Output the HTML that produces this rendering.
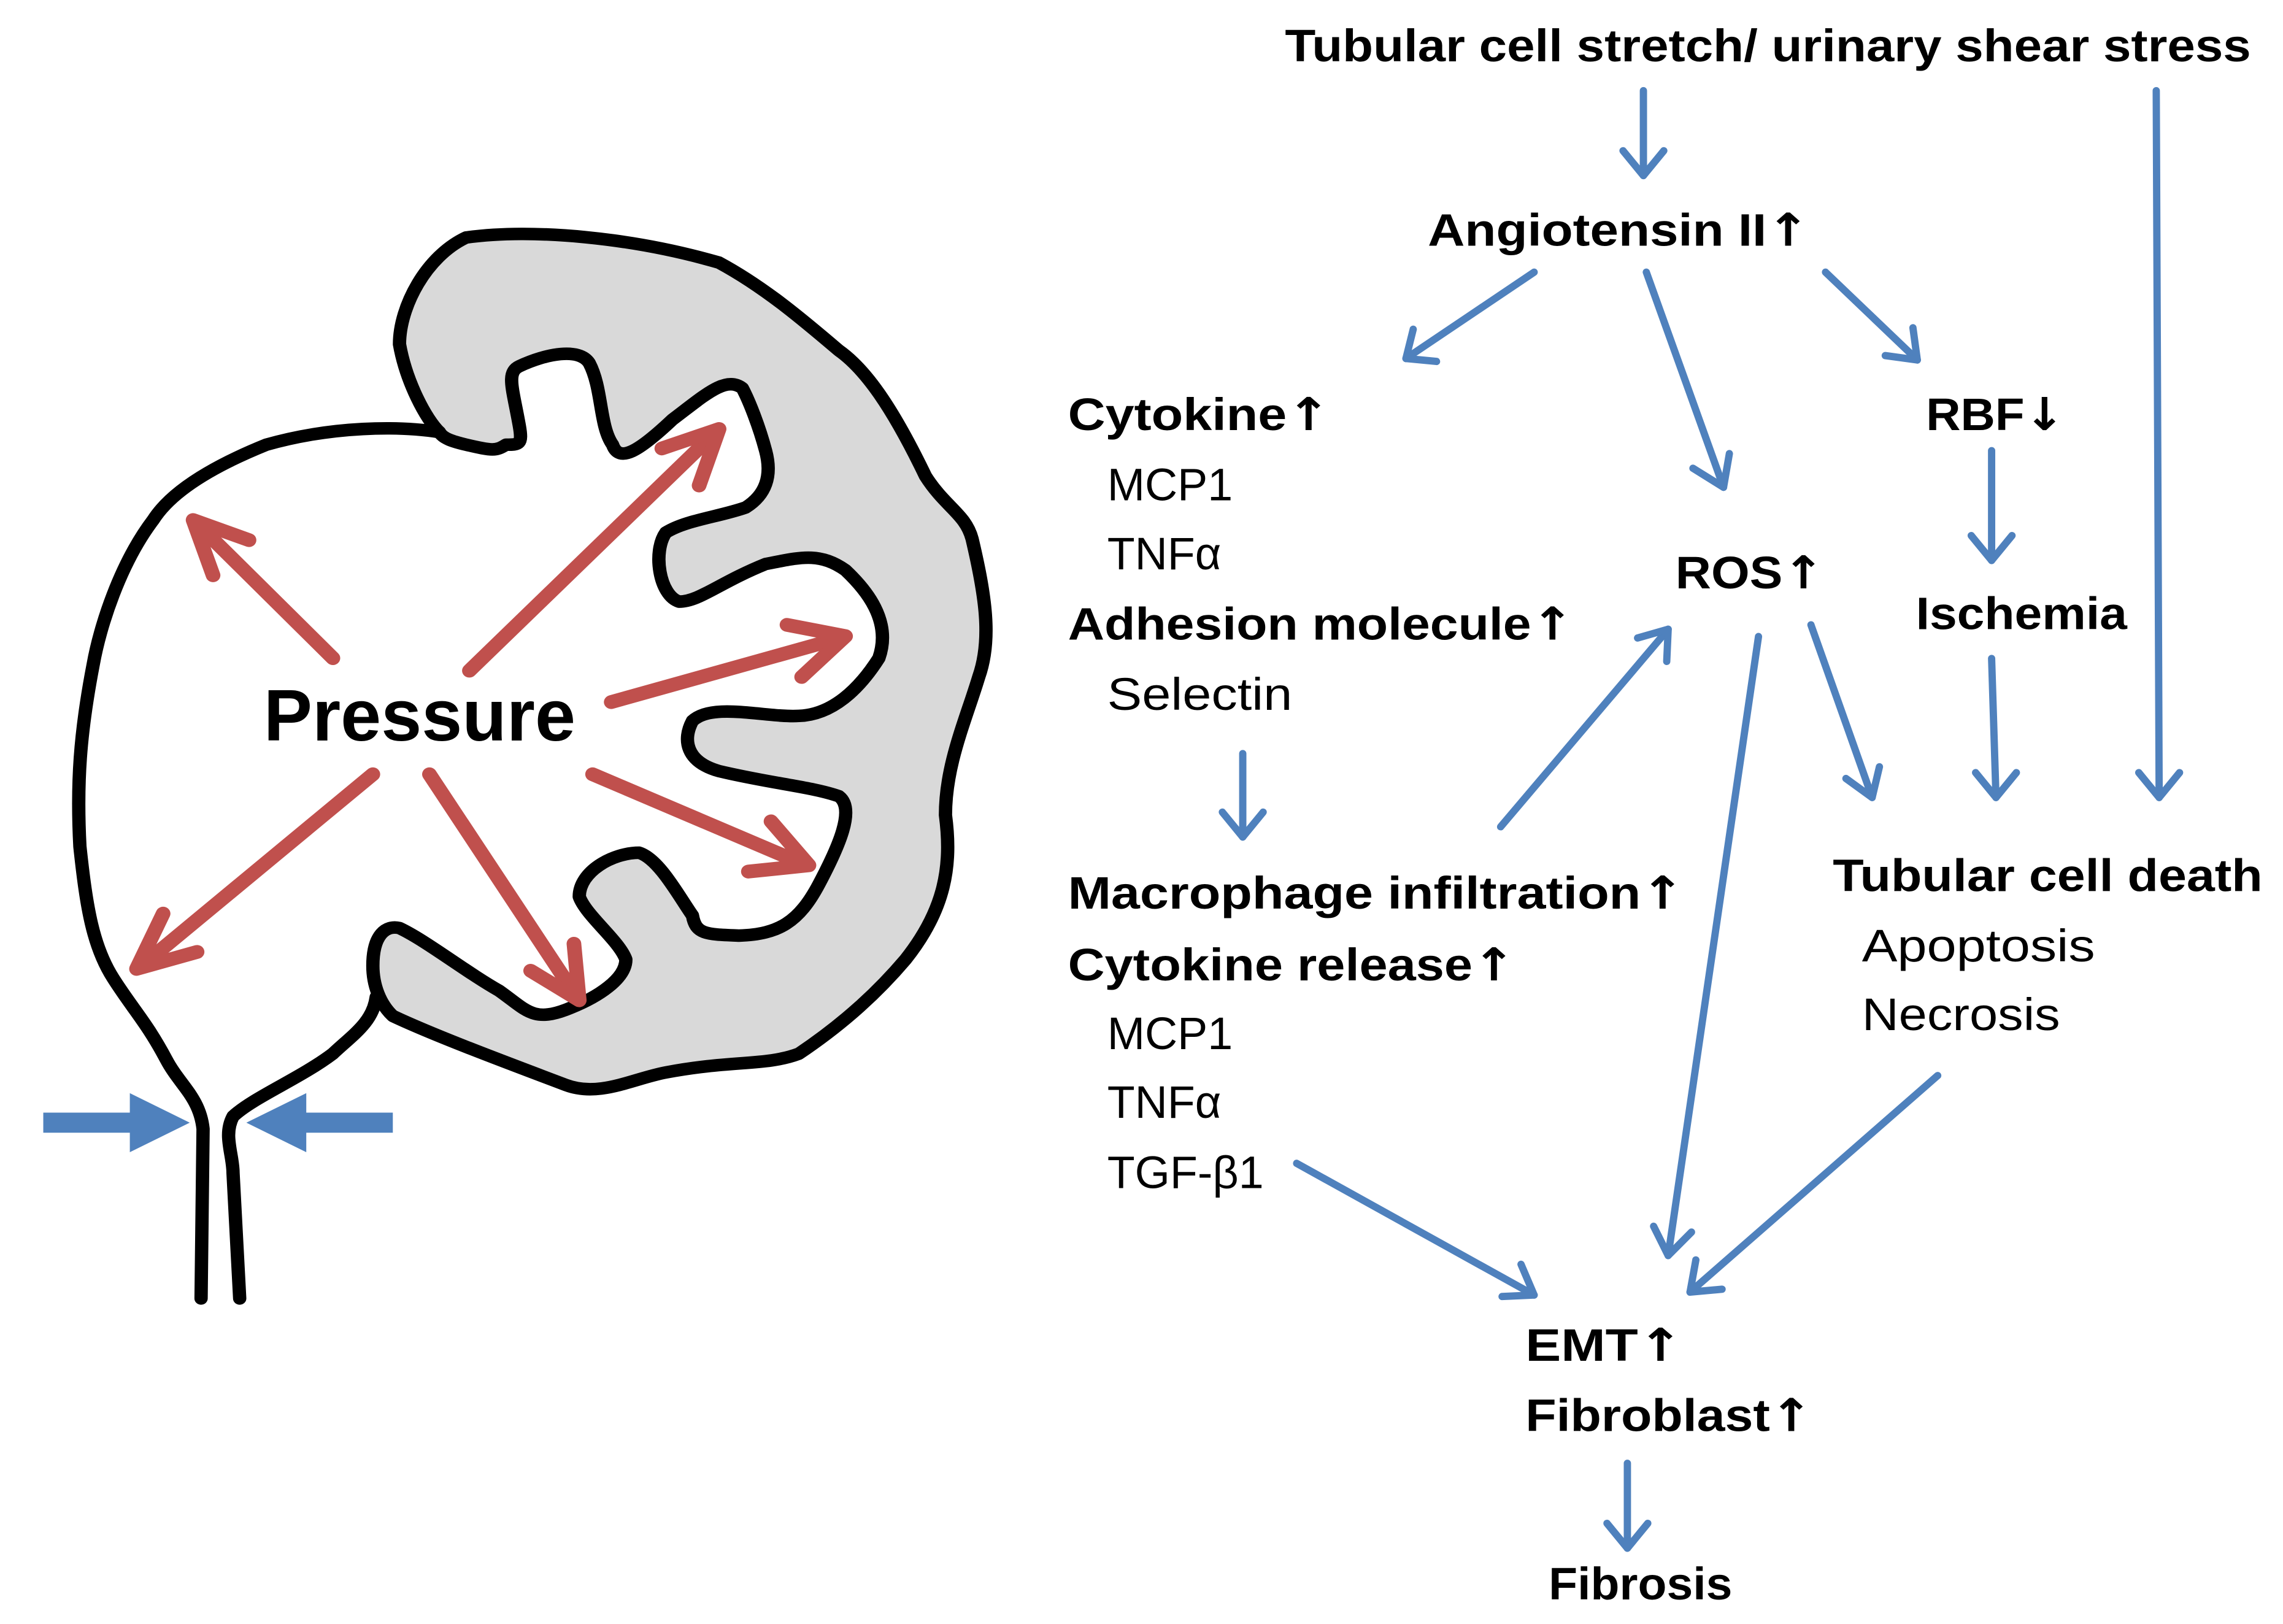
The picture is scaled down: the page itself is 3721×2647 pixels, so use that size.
<!DOCTYPE html>
<html><head><meta charset="utf-8"><style>
html,body{margin:0;padding:0;background:#fff}
svg{display:block}
text{font-family:"Liberation Sans",sans-serif;fill:#000}
.b{font-weight:bold;font-size:31px}
.n{font-size:31px}
.a{font-family:"DejaVu Sans",sans-serif;font-weight:bold}
</style></head><body>
<svg width="3721" height="2647" viewBox="0 0 1567 1109.8" preserveAspectRatio="none">
<g transform="translate(0,128) scale(0.457,0.429)" stroke-linejoin="round" stroke-linecap="round">
<path d="M660,390 C640,370 610,310 600,250 C600,190 640,110 700,80 C800,65 950,80 1080,120 C1150,160 1210,215 1260,260 C1300,290 1340,350 1390,460 C1420,510 1450,520 1460,560 C1480,650 1490,720 1470,780 C1450,850 1420,920 1420,1000 C1430,1080 1420,1150 1360,1230 C1320,1280 1270,1330 1200,1380 C1150,1400 1100,1390 1000,1410 C950,1420 900,1450 850,1430 C750,1390 650,1350 590,1320 C570,1300 560,1270 560,1240 C560,1190 580,1175 600,1180 C640,1200 700,1250 750,1280 C790,1310 800,1330 850,1310 C900,1290 940,1260 940,1230 C930,1200 880,1160 870,1130 C870,1090 920,1060 960,1060 C990,1070 1020,1130 1040,1160 C1045,1190 1060,1190 1110,1192 C1170,1190 1200,1170 1230,1110 C1260,1050 1285,990 1260,970 C1220,955 1160,950 1080,930 C1030,915 1025,880 1040,850 C1070,820 1150,845 1200,842 C1250,840 1290,800 1320,750 C1340,690 1300,640 1270,610 C1230,580 1200,590 1150,600 C1080,630 1050,660 1020,660 C990,650 980,580 1000,550 C1030,530 1080,525 1120,510 C1150,490 1160,460 1150,420 C1140,380 1125,340 1115,320 C1090,300 1060,330 1010,370 C960,420 930,440 920,410 C900,380 905,320 885,280 C870,255 820,265 780,285 C760,295 770,320 780,380 C785,410 780,410 760,410 C745,420 740,420 700,410 C680,405 665,400 660,390 Z" fill="#d9d9d9" stroke="#000" stroke-width="20"/>
<path d="M660,390 C600,380 500,380 400,410 C330,440 260,480 230,530 C180,600 150,700 140,760 C120,870 115,950 120,1050 C130,1150 140,1210 170,1260 C200,1310 220,1330 250,1390 C270,1430 300,1450 305,1500 L302,1770" fill="none" stroke="#000" stroke-width="20"/>
<path d="M565,1290 C560,1330 530,1350 500,1380 C450,1420 380,1450 350,1480 C335,1510 350,1540 350,1570 L360,1770" fill="none" stroke="#000" stroke-width="20"/>
<g stroke="#c0504d" stroke-width="22" fill="none">
<line x1="500" y1="750" x2="300" y2="540"/><polyline points="320,618 290,530 374,562"/>
<line x1="705" y1="770" x2="1070" y2="395"/><polyline points="994,416 1080,385 1050,475"/>
<line x1="918" y1="820" x2="1255" y2="720"/><polyline points="1182,697 1270,715 1204,780"/>
<line x1="890" y1="935" x2="1200" y2="1075"/><polyline points="1158,1010 1215,1080 1124,1090"/>
<line x1="645" y1="935" x2="862" y2="1283"/><polyline points="797,1248 870,1295 862,1205"/>
<line x1="560" y1="935" x2="215" y2="1238"/><polyline points="245,1157 205,1245 296,1218"/>
</g>
<polygon points="65,1474 195,1474 195,1443 285,1490 195,1537 195,1506 65,1506" fill="#4f81bd"/>
<polygon points="590,1474 460,1474 460,1443 370,1490 460,1537 460,1506 590,1506" fill="#4f81bd"/>
</g>
<text x="181" y="506" font-weight="bold" font-size="50">Pressure</text>

<g stroke="#4f81bd" stroke-width="5" fill="none" stroke-linecap="round" stroke-linejoin="round">
<line x1="1128" y1="62" x2="1128" y2="120"/><polyline points="1114,103 1128,120 1142,103"/>
<line x1="1480" y1="62" x2="1482" y2="545"/><polyline points="1468,528 1482,545 1496,528"/>
<line x1="1053" y1="186" x2="965" y2="245"/><polyline points="970,225 965,245 986,247"/>
<line x1="1130" y1="186" x2="1183" y2="333"/><polyline points="1162,320 1183,333 1187,310"/>
<line x1="1253" y1="186" x2="1316" y2="246"/><polyline points="1294,243 1316,246 1313,224"/>
<line x1="1367" y1="308" x2="1367" y2="383"/><polyline points="1353,366 1367,383 1381,366"/>
<line x1="1367" y1="450" x2="1370" y2="545"/><polyline points="1356,528 1370,545 1384,528"/>
<line x1="853" y1="515" x2="853" y2="572"/><polyline points="839,555 853,572 867,555"/>
<line x1="1030" y1="565" x2="1145" y2="430"/><polyline points="1124,436 1145,430 1144,452"/>
<line x1="1207" y1="435" x2="1145" y2="858"/><polyline points="1135,838 1145,858 1161,842"/>
<line x1="1243" y1="427" x2="1285" y2="545"/><polyline points="1267,532 1285,545 1290,524"/>
<line x1="890" y1="795" x2="1053" y2="885"/><polyline points="1031,886 1053,885 1044,864"/>
<line x1="1330" y1="735" x2="1160" y2="883"/><polyline points="1164,861 1160,883 1182,881"/>
<line x1="1117" y1="1000" x2="1117" y2="1058"/><polyline points="1103,1041 1117,1058 1131,1041"/>
</g>

<text class="b" x="882" y="42" textLength="663" lengthAdjust="spacingAndGlyphs">Tubular cell stretch/ urinary shear stress</text>
<text class="b" x="980" y="168" textLength="262" lengthAdjust="spacingAndGlyphs">Angiotensin II<tspan class="a">↑</tspan></text>
<text class="b" x="733" y="294" textLength="180" lengthAdjust="spacingAndGlyphs">Cytokine<tspan class="a">↑</tspan></text>
<text class="n" x="760" y="342">MCP1</text>
<text class="n" x="760" y="389">TNFα</text>
<text class="b" x="733" y="437" textLength="347" lengthAdjust="spacingAndGlyphs">Adhesion molecule<tspan class="a">↑</tspan></text>
<text class="n" x="760" y="485" textLength="127" lengthAdjust="spacingAndGlyphs">Selectin</text>
<text class="b" x="1322" y="294" textLength="95" lengthAdjust="spacingAndGlyphs">RBF<tspan class="a">↓</tspan></text>
<text class="b" x="1150" y="402" textLength="102" lengthAdjust="spacingAndGlyphs">ROS<tspan class="a">↑</tspan></text>
<text class="b" x="1315" y="430" textLength="145" lengthAdjust="spacingAndGlyphs">Ischemia</text>
<text class="b" x="733" y="621" textLength="423" lengthAdjust="spacingAndGlyphs">Macrophage infiltration<tspan class="a">↑</tspan></text>
<text class="b" x="733" y="670" textLength="307" lengthAdjust="spacingAndGlyphs">Cytokine release<tspan class="a">↑</tspan></text>
<text class="n" x="760" y="717">MCP1</text>
<text class="n" x="760" y="764">TNFα</text>
<text class="n" x="760" y="812">TGF-β1</text>
<text class="b" x="1258" y="609" textLength="295" lengthAdjust="spacingAndGlyphs">Tubular cell death</text>
<text class="n" x="1278" y="657" textLength="160" lengthAdjust="spacingAndGlyphs">Apoptosis</text>
<text class="n" x="1278" y="704" textLength="136" lengthAdjust="spacingAndGlyphs">Necrosis</text>
<text class="b" x="1047" y="930" textLength="108" lengthAdjust="spacingAndGlyphs">EMT<tspan class="a">↑</tspan></text>
<text class="b" x="1047" y="978" textLength="197" lengthAdjust="spacingAndGlyphs">Fibroblast<tspan class="a">↑</tspan></text>
<text class="b" x="1063" y="1093" textLength="126" lengthAdjust="spacingAndGlyphs">Fibrosis</text>
</svg>
</body></html>
